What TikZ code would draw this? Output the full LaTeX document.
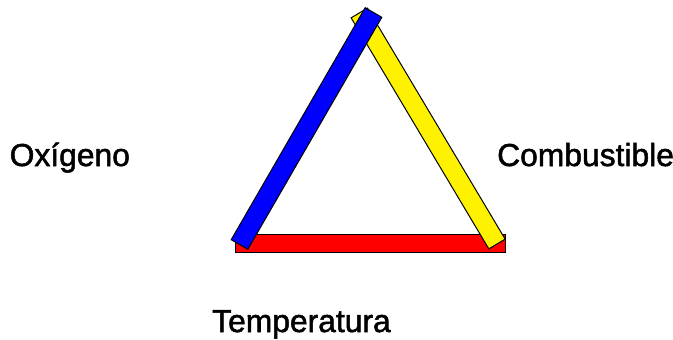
\documentclass[tikz,border=0pt]{standalone}
\usepackage{fontspec}
\setmainfont{Liberation Sans}
\newfontfamily\lblfont[FakeBold=1.6]{Liberation Sans}
\usetikzlibrary{calc}
\tikzset{
  bar/.style={draw=black, line width=1pt, line join=miter},
  lbl/.style={inner sep=0pt, anchor=base west, font=\lblfont\fontsize{31.8}{36}\selectfont}
}
\begin{document}
\begin{tikzpicture}[x=1pt,y=-1pt]
\useasboundingbox (0,0) rectangle (673,340);
% red bar (Temperatura)
\filldraw[bar, fill=red] (235,234) rectangle (505,252);
% yellow bar (Combustible)
\coordinate (yA) at (359.3,13);
\coordinate (yB) at (497,244);
\filldraw[bar, fill=yellow] ($(yA)!9.5pt!90:(yB)$) -- ($(yB)!9.5pt!-90:(yA)$) -- ($(yB)!9.5pt!90:(yA)$) -- ($(yA)!9.5pt!-90:(yB)$) -- cycle;
% blue bar (Oxigeno)
\coordinate (bA) at (373.5,12.5);
\coordinate (bB) at (239.5,244.5);
\filldraw[bar, fill=blue] ($(bA)!9.6pt!90:(bB)$) -- ($(bB)!9.6pt!-90:(bA)$) -- ($(bB)!9.6pt!90:(bA)$) -- ($(bA)!9.6pt!-90:(bB)$) -- cycle;
% labels
\node[lbl] (oxi) at (9.5,166) {Oxígeno};
\node[lbl] (comb) at (497,166) {Combustible};
\node[lbl] (temp) at (212,332) {Temperatura};
\end{tikzpicture}
\end{document}
